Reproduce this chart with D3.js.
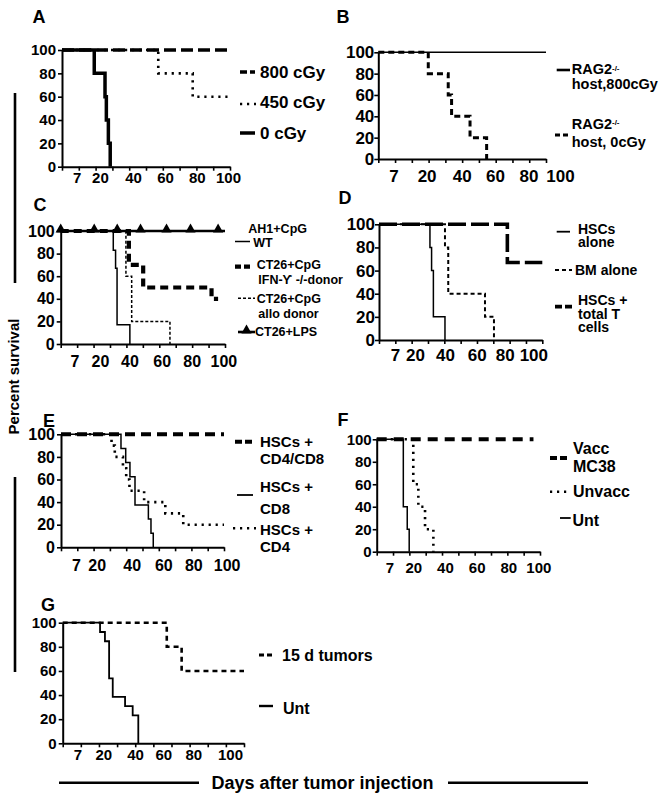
<!DOCTYPE html>
<html>
<head>
<meta charset="utf-8">
<script src="https://cdn.jsdelivr.net/npm/d3@7"></script>
<style>
  body { margin: 0; background: #fff; }
  text { font-family: "Liberation Sans", Arial, Helvetica, sans-serif; font-weight: bold; }
</style>
</head>
<body>
<div id="chart"></div>
<script>
// tick labels shared by every panel
const xTickLabels = ["7", "20", "40", "60", "80", "100"];
const yTicks = [0, 20, 40, 60, 80, 100];
const minorTicks = d3.range(0, 101, 10);

// A
const a800 = [[0, 100], [100, 100]];
const a450 = [[0, 100], [57.3, 80], [77.8, 60], [100, 60]];
const a0 = [[0, 100], [19.2, 80], [25.6, 60], [26.4, 40], [27.6, 20], [28.7, 0]];
const aLegend = ["800 cGy", "450 cGy", "0 cGy"];

// B
const b800 = [[0, 100], [100, 100]];
const b0 = [[0, 100], [29.8, 80], [41.7, 60], [43.7, 40], [54.7, 20], [64.6, 0]];
const bLegend = [["RAG2", "host,800cGy"], ["RAG2", "host, 0cGy"]];

// C
const cWT = [[0, 100], [32, 83], [33.4, 67], [34.3, 17], [42.1, 0]];
const cIFN = [[0, 100], [41.5, 70], [50.2, 50], [91.8, 40], [95.8, 40]];
const cAllo = [[0, 100], [39.7, 60], [43.2, 20], [66.5, 0]];
const cLPS = [[0, 100], [100, 100]];
const cLPSMarks = [0, 20.4, 34.4, 48.6, 64.4, 79, 95.8];
const cLegend = [["AH1+CpG", "WT"], ["CT26+CpG", "IFN-ϒ -/-donor"], ["CT26+CpG", "allo donor"], ["CT26+LPS"]];

// D
const dHSC = [[0, 100], [31.2, 80], [32.2, 60], [33.3, 20], [40.4, 0]];
const dBM = [[0, 100], [40.4, 80], [42.4, 40], [64.9, 20], [70.4, 0]];
const dHSCT = [[0, 100], [78.6, 67], [100, 67]];
const dLegend = [["HSCs", "alone"], ["BM alone"], ["HSCs +", "total T", "cells"]];

// E
const eCD48 = [[0, 100], [100, 100]];
const eCD8 = [[0, 100], [36.8, 87.5], [39.7, 75], [42.3, 62.5], [45.4, 37.5], [53.6, 25], [55.2, 12.5], [56.6, 0]];
const eCD4 = [[0, 100], [31, 90], [33, 80], [38, 70], [40, 60], [42, 50], [51, 40], [64, 30], [75, 20], [100, 20]];
const eLegend = [["HSCs +", "CD4/CD8"], ["HSCs +", "CD8"], ["HSCs +", "CD4"]];

// F
const fVacc = [[0, 100], [96, 100]];
const fUnvacc = [[0, 100], [22.4, 60], [25.5, 40], [29.6, 20], [34.7, 0]];
const fUnt = [[0, 100], [16.3, 40], [18.7, 20], [19.9, 0]];
const fLegend = [["Vacc", "MC38"], ["Unvacc"], ["Unt"]];

// G
const g15d = [[0, 100], [57.4, 80], [65.6, 60], [100, 60]];
const gUnt = [[0, 100], [20.6, 92.3], [23.3, 84.6], [25.6, 53.8], [27.6, 38.5], [34.4, 30.8], [38.6, 23.1], [41.7, 0]];
const gLegend = ["15 d tumors", "Unt"];

const width = 662;
const height = 804;

const svg = d3.select("#chart").append("svg")
  .attr("width", width).attr("height", height);

const thin = { w: 1.5, dash: null };
const thickSolid = { w: 3.5, dash: null };
const dotted = { w: 2.6, dash: "2.2,4.8" };

function drawPanel(p) {
  const x = d3.scaleLinear().domain([0, 100]).range([p.x0, p.x1]);
  const y = d3.scaleLinear().domain([0, 100]).range([p.yB, p.yT]);

  svg.append("text").attr("x", p.tx).attr("y", p.ty).attr("dy", "0.36em")
    .attr("text-anchor", "middle").attr("font-size", 18).text(p.title);

  // minor ticks + axis line
  svg.append("g").attr("transform", `translate(0,${p.yB})`)
    .call(d3.axisBottom(x).tickValues(minorTicks).tickFormat("").tickSize(4).tickSizeOuter(0))
    .call(g => g.select(".domain").attr("stroke-width", 2))
    .call(g => g.selectAll(".tick line").attr("stroke-width", 1.6));

  // labelled ticks
  svg.append("g").attr("transform", `translate(0,${p.yB})`)
    .call(d3.axisBottom(x).tickValues(p.labelAt).tickFormat((d, i) => xTickLabels[i])
      .tickSize(0).tickPadding(p.labelOff - 0.35 * p.fs))
    .call(g => g.select(".domain").remove())
    .call(g => g.attr("font-family", null).attr("font-size", p.fs));

  svg.append("g").attr("transform", `translate(${p.x0},0)`)
    .call(d3.axisLeft(y).tickValues(yTicks).tickSize(4).tickPadding(p.yPad).tickSizeOuter(0))
    .call(g => g.select(".domain").attr("stroke-width", 2))
    .call(g => g.selectAll(".tick line").attr("stroke-width", 1.6))
    .call(g => g.attr("font-family", null).attr("font-size", p.fs));

  const line = d3.line().x(d => x(d[0])).y(d => y(d[1])).curve(d3.curveStepAfter);

  p.series.forEach(s => {
    svg.append("path").datum(s.data)
      .attr("d", line)
      .attr("fill", "none")
      .attr("stroke", "#000")
      .attr("stroke-width", s.style.w)
      .attr("stroke-dasharray", s.style.dash);
    if (s.marks) {
      svg.selectAll(null).data(s.marks).enter().append("path")
        .attr("d", d3.symbol(d3.symbolTriangle).size(45))
        .attr("transform", d => `translate(${x(d)},${y(100) - 1.5})`)
        .attr("fill", "#000");
    }
  });

  p.legend.forEach(l => {
    if (l.style) {
      svg.append("line")
        .attr("x1", l.sx[0]).attr("x2", l.sx[1])
        .attr("y1", l.sy).attr("y2", l.sy)
        .attr("stroke", "#000")
        .attr("stroke-width", l.style.w)
        .attr("stroke-dasharray", l.style.dash);
      if (l.mark) {
        svg.append("path")
          .attr("d", d3.symbol(d3.symbolTriangle).size(45))
          .attr("transform", `translate(${(l.sx[0] + l.sx[1]) / 2},${l.sy - 1.5})`);
      }
    }
    l.lines.forEach((t, i) => {
      const txt = svg.append("text")
        .attr("x", l.tx[i]).attr("y", l.ty[i]).attr("dy", "0.36em")
        .attr("font-size", p.lfs);
      txt.text(t);
      if (l.sup && t === "RAG2") {
        txt.append("tspan").attr("dy", "-0.45em").attr("font-size", 8).text("-/-");
      }
    });
  });
}

drawPanel({
  title: "A", tx: 39, ty: 17,
  x0: 62, x1: 230, yT: 50, yB: 166.7,
  labelAt: [8.7, 22.6, 42.3, 61.3, 80.2, 98.8], labelOff: 11, fs: 15, yPad: 2,
  series: [
    { data: a450, style: dotted },
    { data: a800, style: { w: 3.4, dash: "12,5" } },
    { data: a0, style: thickSolid }
  ],
  lfs: 17,
  legend: [
    { lines: [aLegend[0]], tx: [260], ty: [72], style: { w: 3.4, dash: "7,3" }, sx: [240, 255], sy: 72 },
    { lines: [aLegend[1]], tx: [260], ty: [102], style: dotted, sx: [240, 256], sy: 104 },
    { lines: [aLegend[2]], tx: [260], ty: [133], style: thickSolid, sx: [240, 255], sy: 133 }
  ]
});

drawPanel({
  title: "B", tx: 343, ty: 17,
  x0: 378.3, x1: 546, yT: 52.3, yB: 159,
  labelAt: [9, 28.8, 49.7, 69.6, 89.5, 108.3], labelOff: 17, fs: 17, yPad: 0,
  series: [
    { data: b800, style: thin },
    { data: b0, style: { w: 3, dash: "6,4" } }
  ],
  lfs: 14.5,
  legend: [
    { lines: bLegend[0], sup: true, tx: [571.7, 571.7], ty: [69, 84], style: { w: 2.6, dash: null }, sx: [556.7, 570], sy: 70 },
    { lines: bLegend[1], sup: true, tx: [571.7, 571.7], ty: [123.3, 141.7], style: { w: 3, dash: "5,3" }, sx: [555, 570], sy: 135 }
  ]
});

drawPanel({
  title: "C", tx: 40, ty: 205,
  x0: 60.7, x1: 225, yT: 231, yB: 344,
  labelAt: [8.3, 23.9, 41.8, 61.5, 79.7, 99], labelOff: 17.7, fs: 16, yPad: 2,
  series: [
    { data: cLPS, style: { w: 2.4, dash: null }, marks: cLPSMarks },
    { data: cWT, style: thin },
    { data: cAllo, style: { w: 1.5, dash: "3,2" } },
    { data: cIFN, style: { w: 4.2, dash: "8,5" } }
  ],
  lfs: 12.5,
  legend: [
    { lines: cLegend[0], tx: [248.3, 253.3], ty: [228, 242.5], style: thin, sx: [235, 250], sy: 241.5 },
    { lines: cLegend[1], tx: [256.7, 258.3], ty: [264.5, 279], style: { w: 4.2, dash: "6,3" }, sx: [235, 253], sy: 266.7 },
    { lines: cLegend[2], tx: [256.7, 258.3], ty: [298.3, 313.5], style: { w: 1.5, dash: "3,2" }, sx: [238, 255], sy: 298.3 },
    { lines: cLegend[3], tx: [255], ty: [331.7], style: { w: 2.6, dash: null }, sx: [238, 255], sy: 332, mark: true }
  ]
});

drawPanel({
  title: "D", tx: 345, ty: 198,
  x0: 379, x1: 542.3, yT: 224.3, yB: 340,
  labelAt: [9.8, 22, 40.4, 59.8, 77, 94.5], labelOff: 15, fs: 17, yPad: 0,
  series: [
    { data: dHSC, style: thin },
    { data: dBM, style: { w: 2, dash: "4,3" } },
    { data: dHSCT, style: { w: 3.6, dash: "18,5" } }
  ],
  lfs: 14,
  legend: [
    { lines: dLegend[0], tx: [578, 578], ty: [228.5, 242], style: { w: 1.8, dash: null }, sx: [556.7, 570], sy: 231.7 },
    { lines: dLegend[1], tx: [575], ty: [270], style: { w: 2, dash: "4,3" }, sx: [555, 572], sy: 270 },
    { lines: dLegend[2], tx: [578, 578, 578], ty: [300, 313.5, 327], style: { w: 3.8, dash: "7,3" }, sx: [555, 572], sy: 306.7 }
  ]
});

drawPanel({
  title: "E", tx: 49, ty: 420.5,
  x0: 61, x1: 224, yT: 434.3, yB: 547.3,
  labelAt: [9.2, 21.9, 43.4, 62.8, 81.2, 101.6], labelOff: 17.7, fs: 16, yPad: 2,
  series: [
    { data: eCD4, style: dotted },
    { data: eCD8, style: thin },
    { data: eCD48, style: { w: 4, dash: "10,6" } }
  ],
  lfs: 15,
  legend: [
    { lines: eLegend[0], tx: [260, 260], ty: [441.7, 458.3], style: { w: 4, dash: "7,3" }, sx: [235, 255], sy: 441.7 },
    { lines: eLegend[1], tx: [260, 260], ty: [486.7, 508.3], style: { w: 1.8, dash: null }, sx: [237, 253], sy: 495 },
    { lines: eLegend[2], tx: [260, 260], ty: [530, 546.7], style: dotted, sx: [233, 256], sy: 528.3 }
  ]
});

drawPanel({
  title: "F", tx: 343, ty: 420,
  x0: 376.7, x1: 540, yT: 439.3, yB: 551.7,
  labelAt: [7.8, 22.4, 41.8, 61.2, 80.6, 99], labelOff: 16.3, fs: 15, yPad: 1,
  series: [
    { data: fUnvacc, style: dotted },
    { data: fUnt, style: thin },
    { data: fVacc, style: { w: 4, dash: "10,7" } }
  ],
  lfs: 16,
  legend: [
    { lines: fLegend[0], tx: [573, 573], ty: [448, 466.7], style: { w: 4, dash: "7,3" }, sx: [550, 567], sy: 458 },
    { lines: fLegend[1], tx: [573], ty: [491.7], style: dotted, sx: [550, 569], sy: 491.7 },
    { lines: fLegend[2], tx: [572.5], ty: [520], style: { w: 1.8, dash: null }, sx: [560, 570.7], sy: 518 }
  ]
});

drawPanel({
  title: "G", tx: 48, ty: 605,
  x0: 62.7, x1: 244, yT: 622.7, yB: 743.3,
  labelAt: [8.1, 22.4, 39.9, 55.5, 72, 92.3], labelOff: 11.7, fs: 15, yPad: 2,
  series: [
    { data: gUnt, style: { w: 1.8, dash: null } },
    { data: g15d, style: { w: 2.6, dash: "5,4" } }
  ],
  lfs: 16,
  legend: [
    { lines: [gLegend[0]], tx: [282], ty: [655], style: { w: 3, dash: "5,3" }, sx: [259, 275], sy: 655 },
    { lines: [gLegend[1]], tx: [283], ty: [708.3], style: { w: 2.4, dash: null }, sx: [259, 273], sy: 706 }
  ]
});

// shared axis titles
svg.append("text")
  .attr("transform", "translate(18.5,376.5) rotate(-90)")
  .attr("text-anchor", "middle").attr("font-size", 15)
  .text("Percent survival");

svg.append("line").attr("x1", 15).attr("x2", 15).attr("y1", 93).attr("y2", 283)
  .attr("stroke", "#000").attr("stroke-width", 2.6);
svg.append("line").attr("x1", 15).attr("x2", 15).attr("y1", 477).attr("y2", 672)
  .attr("stroke", "#000").attr("stroke-width", 2.6);

svg.append("text")
  .attr("x", 322.5).attr("y", 782.7).attr("dy", "0.36em")
  .attr("text-anchor", "middle").attr("font-size", 18)
  .text("Days after tumor injection");

svg.append("line").attr("x1", 59).attr("x2", 199).attr("y1", 782.7).attr("y2", 782.7)
  .attr("stroke", "#000").attr("stroke-width", 2.6);
svg.append("line").attr("x1", 448).attr("x2", 588).attr("y1", 782.7).attr("y2", 782.7)
  .attr("stroke", "#000").attr("stroke-width", 2.6);
</script>
</body>
</html>
